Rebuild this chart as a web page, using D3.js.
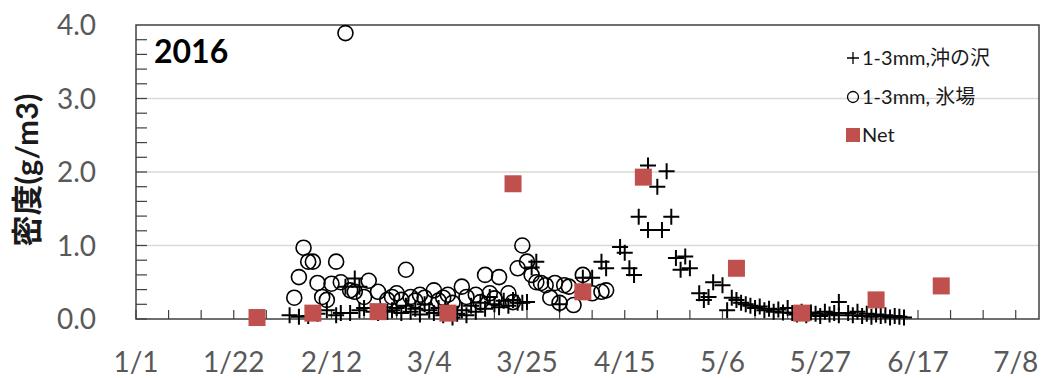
<!DOCTYPE html>
<html>
<head>
<meta charset="utf-8">
<script src="https://cdn.jsdelivr.net/npm/d3@7/dist/d3.min.js"></script>
<style>
  html, body { margin: 0; padding: 0; background: #fff; }
  svg { display: block; }
  text { font-family: Lato, "Noto Sans CJK JP", sans-serif; }
</style>
</head>
<body>
<svg id="chart" width="1048" height="378"></svg>
<script>
// 1-3mm density at 沖の沢 (plus markers)
const okiDates = [
  "2016-02-03","2016-02-05","2016-02-07","2016-02-09","2016-02-11","2016-02-13","2016-02-14",
  "2016-02-15","2016-02-17","2016-02-18","2016-02-16","2016-02-18","2016-02-19","2016-02-21",
  "2016-02-22","2016-02-24","2016-02-25","2016-02-26","2016-02-27","2016-02-28","2016-02-29",
  "2016-03-01","2016-03-02","2016-03-03","2016-03-04","2016-03-05","2016-03-06","2016-03-07",
  "2016-03-08","2016-03-09","2016-03-10","2016-03-11","2016-03-12","2016-03-13","2016-03-14",
  "2016-03-15","2016-03-16","2016-03-17","2016-03-18","2016-03-19","2016-03-20","2016-03-21",
  "2016-03-22","2016-03-23","2016-03-24","2016-03-25","2016-03-26","2016-03-27","2016-04-01",
  "2016-04-06","2016-04-08","2016-04-10","2016-04-11","2016-04-14","2016-04-15","2016-04-16",
  "2016-04-17","2016-04-18","2016-04-20","2016-04-20","2016-04-22","2016-04-23","2016-04-24",
  "2016-04-25","2016-04-26","2016-04-27","2016-04-28","2016-04-29","2016-05-01","2016-05-02",
  "2016-05-03","2016-05-04","2016-05-06","2016-05-07","2016-05-08","2016-05-09","2016-05-10",
  "2016-05-11","2016-05-12","2016-05-13","2016-05-14","2016-05-15","2016-05-16","2016-05-17",
  "2016-05-18","2016-05-19","2016-05-20","2016-05-21","2016-05-22","2016-05-23","2016-05-24",
  "2016-05-25","2016-05-26","2016-05-27","2016-05-28","2016-05-29","2016-05-30","2016-05-31",
  "2016-05-31","2016-06-02","2016-06-03","2016-06-04","2016-06-05","2016-06-06","2016-06-07",
  "2016-06-08","2016-06-09","2016-06-10","2016-06-11","2016-06-12","2016-06-13","2016-06-14"
];
const okiValues = [
  0.05,0.03,0.04,0.07,0.12,0.05,0.08,
  0.44,0.55,0.44,0.08,0.12,0.15,0.10,
  0.08,0.10,0.12,0.15,0.08,0.18,0.10,
  0.14,0.06,0.20,0.12,0.08,0.15,0.05,
  0.10,0.02,0.07,0.12,0.05,0.18,0.10,
  0.22,0.14,0.30,0.20,0.16,0.25,0.18,
  0.26,0.22,0.22,0.23,0.70,0.78,0.20,
  0.56,0.56,0.78,0.69,0.98,0.90,0.69,
  0.60,1.39,2.09,1.21,1.80,1.21,2.01,
  1.39,0.83,0.67,0.85,0.69,0.35,0.26,
  0.30,0.50,0.46,0.12,0.29,0.26,0.22,
  0.20,0.18,0.15,0.17,0.12,0.14,0.10,
  0.13,0.09,0.15,0.08,0.06,0.10,0.05,
  0.09,0.07,0.04,0.10,0.06,0.08,0.05,
  0.23,0.08,0.05,0.10,0.04,0.07,0.03,
  0.06,0.04,0.05,0.02,0.04,0.03,0.02
];

// 1-3mm density at 氷場 (open circles)
const hyobaDates = [
  "2016-02-04","2016-02-05","2016-02-06","2016-02-07","2016-02-08","2016-02-09","2016-02-10",
  "2016-02-11","2016-02-12","2016-02-13","2016-02-14","2016-02-15","2016-02-16","2016-02-17",
  "2016-02-19","2016-02-20","2016-02-22","2016-02-24","2016-02-25","2016-02-26","2016-02-27",
  "2016-02-28","2016-02-29","2016-03-01","2016-03-02","2016-03-03","2016-03-05","2016-03-06",
  "2016-03-07","2016-03-08","2016-03-09","2016-03-11","2016-03-12","2016-03-14","2016-03-15",
  "2016-03-16","2016-03-17","2016-03-18","2016-03-19","2016-03-21","2016-03-22","2016-03-23",
  "2016-03-24","2016-03-25","2016-03-26","2016-03-27","2016-03-28","2016-03-29","2016-03-30",
  "2016-03-31","2016-04-01","2016-04-02","2016-04-03","2016-04-04","2016-04-06","2016-04-08",
  "2016-04-10","2016-04-11"
];
const hyobaValues = [
  0.29,0.57,0.97,0.78,0.78,0.49,0.30,
  0.26,0.48,0.78,0.50,3.89,0.39,0.37,
  0.30,0.52,0.37,0.26,0.30,0.35,0.26,
  0.67,0.30,0.25,0.33,0.29,0.39,0.25,
  0.29,0.33,0.22,0.44,0.30,0.33,0.23,
  0.60,0.35,0.28,0.57,0.35,0.23,0.69,
  1.00,0.78,0.60,0.50,0.49,0.46,0.29,
  0.49,0.22,0.46,0.44,0.19,0.60,0.35,
  0.37,0.39
];

// Net sampling density (red squares)
const netDates = [
  "2016-01-27","2016-02-08","2016-02-22","2016-03-08","2016-03-22","2016-04-06",
  "2016-04-19","2016-05-09","2016-05-23","2016-06-08","2016-06-22"
];
const netValues = [0.02, 0.08, 0.10, 0.08, 1.84, 0.37, 1.93, 0.69, 0.08, 0.26, 0.45];

// Axis labels
const xTickLabels = ["1/1","1/22","2/12","3/4","3/25","4/15","5/6","5/27","6/17","7/8"];
const yTickLabels = ["0.0","1.0","2.0","3.0","4.0"];

const parse = d3.timeParse("%Y-%m-%d");
const svg = d3.select("#chart");

const plotLeft = 136, plotRight = 1039, plotTop = 25, plotBottom = 319;
const start = parse("2016-01-01");
const x = d3.scaleTime()
  .domain([start, parse("2016-07-13")])
  .range([plotLeft, plotRight]);
const y = d3.scaleLinear().domain([0, 4]).range([plotBottom, plotTop]);

const gray = "#595959";
const axisColor = "#404040";

// horizontal gridlines
svg.append("g").selectAll("line")
  .data([1, 2, 3])
  .join("line")
  .attr("x1", plotLeft).attr("x2", plotRight)
  .attr("y1", d => y(d)).attr("y2", d => y(d))
  .attr("stroke", "#d9d9d9").attr("stroke-width", 1.5);

// y minor ticks (inside) every 0.2
svg.append("g").selectAll("line")
  .data(d3.range(0, 20).map(i => i * 0.2))
  .join("line")
  .attr("x1", plotLeft).attr("x2", plotLeft + 11)
  .attr("y1", d => y(d)).attr("y2", d => y(d))
  .attr("stroke", axisColor).attr("stroke-width", 1.2);

// x ticks (inside) every 7 days
const weekTicks = d3.range(0, 28).map(i => d3.timeDay.offset(start, i * 7));
svg.append("g").selectAll("line")
  .data(weekTicks.filter(d => x(d) <= plotRight))
  .join("line")
  .attr("x1", d => x(d)).attr("x2", d => x(d))
  .attr("y1", plotBottom).attr("y2", plotBottom - 9)
  .attr("stroke", axisColor).attr("stroke-width", 1.2);

// plot frame
svg.append("rect")
  .attr("x", plotLeft).attr("y", plotTop)
  .attr("width", plotRight - plotLeft).attr("height", plotBottom - plotTop)
  .attr("fill", "none").attr("stroke", axisColor).attr("stroke-width", 1.5);

// y tick labels
svg.append("g").selectAll("text")
  .data(yTickLabels)
  .join("text")
  .attr("x", 96)
  .attr("y", d => y(+d) + 10)
  .attr("text-anchor", "end")
  .attr("font-size", 28)
  .attr("fill", gray)
  .text(d => d);

// x tick labels every 21 days
svg.append("g").selectAll("text")
  .data(xTickLabels)
  .join("text")
  .attr("x", (d, i) => x(d3.timeDay.offset(start, i * 21)))
  .attr("y", 372)
  .attr("text-anchor", "middle")
  .attr("font-size", 28)
  .attr("fill", gray)
  .text(d => d);

// y axis title
svg.append("text")
  .attr("transform", "translate(38,170) rotate(-90)")
  .attr("text-anchor", "middle")
  .attr("font-size", 31)
  .attr("font-weight", "bold")
  .attr("fill", "#1a1a1a")
  .text("密度(g/m3)");

// year label
svg.append("text")
  .attr("x", 154).attr("y", 63)
  .attr("font-size", 32)
  .attr("font-weight", "bold")
  .attr("fill", "#000")
  .text("2016");

const plusPath = "M-8,0H8M0,-8V8";

// 沖の沢 series
svg.append("g").selectAll("path")
  .data(okiDates.map((d, i) => ({ date: parse(d), v: okiValues[i] })))
  .join("path")
  .attr("transform", d => `translate(${x(d.date)},${y(d.v)})`)
  .attr("d", plusPath)
  .attr("stroke", "#000").attr("stroke-width", 2).attr("fill", "none");

// 氷場 series
svg.append("g").selectAll("circle")
  .data(hyobaDates.map((d, i) => ({ date: parse(d), v: hyobaValues[i] })))
  .join("circle")
  .attr("cx", d => x(d.date)).attr("cy", d => y(d.v))
  .attr("r", 7.5)
  .attr("fill", "none").attr("stroke", "#000").attr("stroke-width", 1.6);

// Net series
const sq = 17;
svg.append("g").selectAll("rect")
  .data(netDates.map((d, i) => ({ date: parse(d), v: netValues[i] })))
  .join("rect")
  .attr("x", d => x(d.date) - sq / 2).attr("y", d => y(d.v) - sq / 2)
  .attr("width", sq).attr("height", sq)
  .attr("fill", "#c0504d");

// legend
const legend = svg.append("g");
const items = [
  { label: "1-3mm,沖の沢", kind: "plus", y: 58 },
  { label: "1-3mm, 氷場", kind: "circle", y: 97 },
  { label: "Net", kind: "square", y: 135 }
];
items.forEach(it => {
  if (it.kind === "plus") {
    legend.append("path")
      .attr("transform", `translate(853,${it.y})`)
      .attr("d", "M-6,0H6M0,-6V6")
      .attr("stroke", "#000").attr("stroke-width", 1.3);
  } else if (it.kind === "circle") {
    legend.append("circle")
      .attr("cx", 853).attr("cy", it.y).attr("r", 5.5)
      .attr("fill", "none").attr("stroke", "#000").attr("stroke-width", 1.3);
  } else {
    legend.append("rect")
      .attr("x", 846).attr("y", it.y - 7).attr("width", 14).attr("height", 14)
      .attr("fill", "#c0504d");
  }
  legend.append("text")
    .attr("x", 862).attr("y", it.y + 7)
    .attr("font-size", 20)
    .attr("fill", "#1a1a1a")
    .text(it.label);
});
</script>
</body>
</html>
